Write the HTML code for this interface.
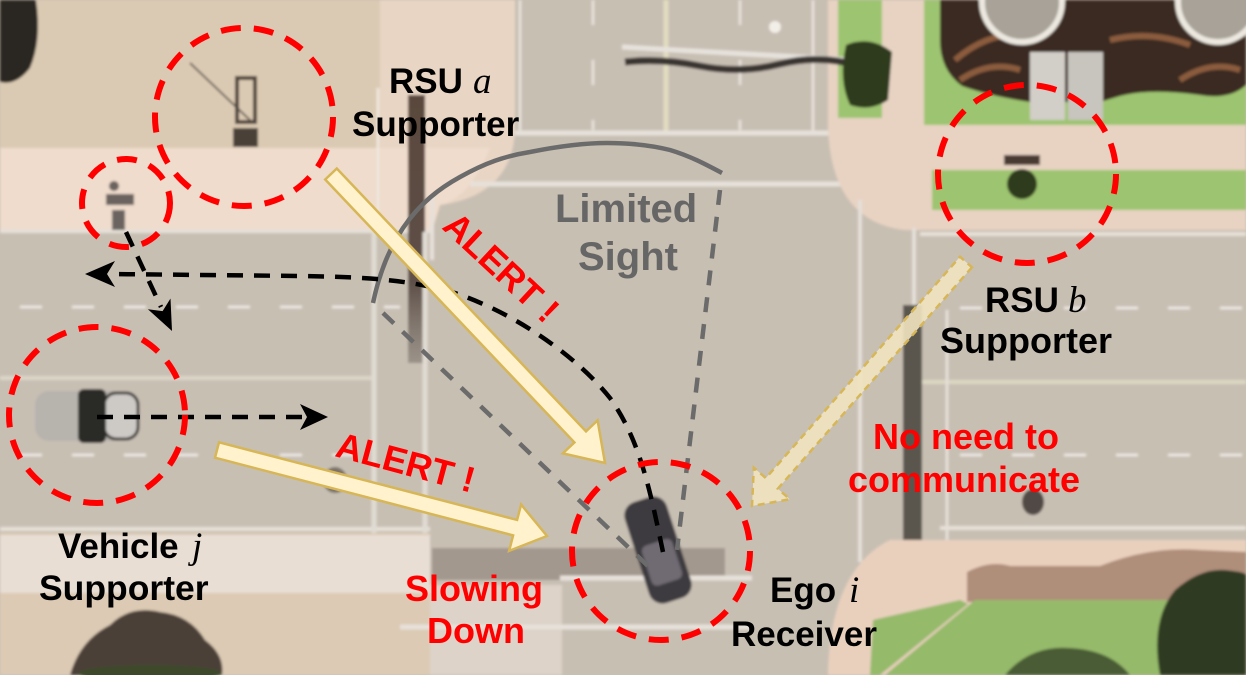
<!DOCTYPE html>
<html><head><meta charset="utf-8">
<style>
html,body{margin:0;padding:0;width:1246px;height:675px;overflow:hidden;background:#c8bfb3}
svg{display:block}
text{font-family:"Liberation Sans",Arial,sans-serif;font-weight:bold}
.m{font-family:"Liberation Serif",serif;font-style:italic;font-weight:normal}
</style></head><body>
<svg width="1246" height="675" viewBox="0 0 1246 675" xmlns="http://www.w3.org/2000/svg">
<defs>
<filter id="soft" x="0" y="0" width="100%" height="100%"><feGaussianBlur stdDeviation="1.2"/></filter>
<linearGradient id="trunk" x1="0" y1="0" x2="0" y2="1">
<stop offset="0" stop-color="#5a473c"/><stop offset="0.7" stop-color="#5e5048"/><stop offset="1" stop-color="#7d746c" stop-opacity="0.6"/>
</linearGradient>
</defs>

<g filter="url(#soft)">
<rect width="1246" height="675" fill="#c8bfb3"/>

<!-- top-left plaza -->
<path d="M0,0 H515 V130 Q512,195 440,205 L432,231 H0 Z" fill="#dbcab3"/>
<path d="M380,0 H515 V130 Q512,195 440,205 L432,231 H380 Z" fill="#e8d5c4"/>
<path d="M0,148 H490 Q470,198 440,205 L432,231 H0 Z" fill="#efdccc"/>
<path d="M0,0 H36 Q42,40 30,68 Q16,86 0,82 Z" fill="#2b2521"/>
<line x1="378" y1="88" x2="378" y2="230" stroke="#eee6dc" stroke-width="3"/>
<line x1="0" y1="231" x2="432" y2="231" stroke="#e6e0d8" stroke-width="4"/>
<line x1="190" y1="63" x2="253" y2="123" stroke="#6b625a" stroke-width="2"/>
<rect x="237" y="78" width="18" height="44" fill="none" stroke="#4d433b" stroke-width="4"/>
<rect x="233" y="128" width="25" height="19" fill="#4a3f38"/>
<rect x="408" y="95" width="17" height="268" fill="url(#trunk)"/>

<!-- top vertical road markings -->
<line x1="520" y1="0" x2="520" y2="133" stroke="#e4dfd8" stroke-width="3"/>
<line x1="593" y1="0" x2="593" y2="130" stroke="#e4dfd8" stroke-width="3" stroke-dasharray="25 35"/>
<line x1="666" y1="0" x2="666" y2="133" stroke="#e2dcc0" stroke-width="5"/>
<line x1="740" y1="0" x2="740" y2="130" stroke="#e4dfd8" stroke-width="3" stroke-dasharray="25 35"/>
<line x1="813" y1="0" x2="813" y2="133" stroke="#e4dfd8" stroke-width="3"/>
<line x1="515" y1="133" x2="830" y2="133" stroke="#e6e1da" stroke-width="5"/>
<line x1="470" y1="184" x2="845" y2="184" stroke="#e6e1da" stroke-width="5"/>
<line x1="432" y1="195" x2="432" y2="260" stroke="#e6e1da" stroke-width="4"/>

<!-- top-right block -->
<path d="M828,0 H1246 V230 H905 Q832,222 828,128 Z" fill="#e8d3c2"/>
<rect x="838" y="0" width="44" height="118" fill="#9dc46f"/>
<rect x="924" y="0" width="322" height="125" fill="#9dc46f"/>
<path d="M940,0 H1246 V85 Q1230,100 1200,95 Q1150,88 1120,96 L1100,102 L1030,102 Q990,96 962,86 Q940,70 940,40 Z" fill="#3a2b22"/>
<g stroke="#8b5b3d" stroke-width="6" fill="none">
<path d="M955,60 Q990,30 1030,35"/><path d="M1110,40 Q1150,30 1190,45"/><path d="M1180,80 Q1210,60 1240,70"/><path d="M960,80 Q990,60 1020,70"/>
</g>
<circle cx="1022" cy="2" r="40" fill="#a8a298" stroke="#ece8e0" stroke-width="6"/>
<circle cx="1218" cy="2" r="40" fill="#a8a298" stroke="#ece8e0" stroke-width="6"/>
<rect x="1030" y="52" width="35" height="68" fill="#d2cec8"/>
<rect x="1068" y="52" width="35" height="68" fill="#c8c4be"/>
<rect x="932" y="170" width="314" height="40" fill="#9dc46f"/>
<rect x="1004" y="155" width="36" height="10" fill="#4a3a30"/>
<ellipse cx="1022" cy="184" rx="15" ry="15" fill="#2d3a1e"/>
<line x1="622" y1="47" x2="890" y2="62" stroke="#e6e2dc" stroke-width="5"/>
<path d="M625,62 Q660,58 700,66 T780,64 T860,66 L890,68" stroke="#3b3430" stroke-width="7" fill="none"/>
<path d="M846,45 Q870,35 892,52 L888,100 Q870,112 850,105 Q838,80 846,45 Z" fill="#2d3a1e"/>
<circle cx="775" cy="27" r="6" fill="#f2eee8"/>

<!-- left road markings -->
<line x1="20" y1="307" x2="400" y2="307" stroke="#e8e4de" stroke-width="3" stroke-dasharray="22 30"/>
<line x1="0" y1="378" x2="372" y2="378" stroke="#dcd6c8" stroke-width="4"/>
<line x1="20" y1="455" x2="360" y2="455" stroke="#e8e4de" stroke-width="3" stroke-dasharray="22 30"/>
<line x1="0" y1="529" x2="430" y2="529" stroke="#e6e0d8" stroke-width="4"/>
<line x1="374" y1="232" x2="374" y2="540" stroke="#e0dbd3" stroke-width="5"/>
<line x1="425" y1="232" x2="425" y2="545" stroke="#e0dbd3" stroke-width="5"/>
<ellipse cx="335" cy="480" rx="12" ry="13" fill="#5a514a" opacity="0.7"/>

<!-- right road markings -->
<line x1="920" y1="234" x2="1246" y2="234" stroke="#e6e0d8" stroke-width="4"/>
<line x1="960" y1="308" x2="1246" y2="308" stroke="#e8e4de" stroke-width="3" stroke-dasharray="22 30"/>
<line x1="920" y1="382" x2="1246" y2="382" stroke="#dcd7c2" stroke-width="4"/>
<line x1="960" y1="455" x2="1246" y2="455" stroke="#e8e4de" stroke-width="3" stroke-dasharray="22 30"/>
<line x1="940" y1="528" x2="1246" y2="528" stroke="#e6e0d8" stroke-width="4"/>
<line x1="860" y1="200" x2="860" y2="562" stroke="#e4dfd8" stroke-width="4"/>
<line x1="914" y1="228" x2="914" y2="545" stroke="#e4dfd8" stroke-width="4"/>
<line x1="947" y1="310" x2="947" y2="545" stroke="#e4dfd8" stroke-width="3"/>
<rect x="903" y="305" width="19" height="298" fill="#5a544e"/>
<ellipse cx="1033" cy="502" rx="11" ry="13" fill="#514a44"/>

<!-- bottom-left -->
<rect x="0" y="533" width="430" height="142" fill="#dccab4"/>
<rect x="0" y="535" width="430" height="58" fill="#e8ded4"/>
<path d="M70,675 Q80,640 110,625 Q130,605 160,612 Q190,615 205,640 Q225,655 222,675 Z" fill="#4b4037"/>
<ellipse cx="150" cy="673" rx="72" ry="8" fill="#3c4a2a"/>
<rect x="430" y="585" width="132" height="90" fill="#ddd3c8"/>
<rect x="432" y="548" width="293" height="32" fill="#8a7e74" opacity="0.6"/>
<line x1="400" y1="627" x2="752" y2="627" stroke="#e6e1da" stroke-width="5"/>
<line x1="560" y1="578" x2="752" y2="578" stroke="#e6e1da" stroke-width="5"/>

<!-- bottom-right -->
<path d="M890,540 H1246 V675 H828 Q830,570 890,540 Z" fill="#e9d0bd"/>
<path d="M967,572 Q990,560 1010,566 L1100,566 Q1150,546 1200,550 L1246,552 V602 H967 Z" fill="#a5826f" opacity="0.85"/>
<polygon points="975,600 1246,600 1246,675 885,675" fill="#95ba6b"/>
<polygon points="873,620 960,600 968,604 880,675 870,675" fill="#95ba6b"/>
<path d="M1160,675 Q1150,620 1175,590 Q1200,568 1225,570 Q1246,572 1246,575 V675 Z" fill="#2e3a20"/>
<path d="M1005,675 Q1030,645 1070,648 Q1110,650 1130,675 Z" fill="#3c4a2c" opacity="0.85"/>

<!-- vehicle j -->
<rect x="35" y="391" width="104" height="50" rx="14" fill="#b7b3ad"/>
<rect x="104" y="393" width="34" height="46" rx="12" fill="#cdcac6" stroke="#3a3836" stroke-width="3"/>
<rect x="78" y="389" width="28" height="54" rx="6" fill="#2c2a28"/>
<g fill="#4a4545" opacity="0.8">
<circle cx="114" cy="186" r="5"/><rect x="106" y="194" width="28" height="11"/><rect x="112" y="210" width="13" height="20"/>
</g>
<g transform="translate(658,550) rotate(-18)">
<rect x="-22" y="-53" width="44" height="106" rx="14" fill="#3e3b41"/>
<rect x="-16" y="-8" width="32" height="42" rx="6" fill="#6f6b72"/>
</g>
</g>

<!-- limited sight -->
<g stroke="#6b6b6b" stroke-width="4.5" fill="none">
<path d="M373,303 C380,270 390,248 403,228 C420,203 440,188 460,177 C485,163 505,156 530,152 C560,146 585,143 607,143 C630,143 650,145 670,150 C690,156 705,164 722,173"/>
<line x1="720" y1="190" x2="677" y2="550" stroke-dasharray="15 12"/>
<line x1="383" y1="313" x2="650" y2="568" stroke-dasharray="15 12"/>
</g>

<!-- black dashed trajectories -->
<g stroke="#000" stroke-width="4.5" fill="none" stroke-dasharray="16 11">
<path d="M663,552 C650,490 640,440 610,398 C580,360 520,315 455,293 C410,280 370,277 300,276 L108,274"/>
<line x1="126" y1="232" x2="161" y2="307"/>
<line x1="97" y1="417" x2="305" y2="417"/>
</g>
<g fill="#000">
<polygon points="85,274 115,261 107,274 115,287"/>
<polygon points="172,331 147.9,309.2 162.6,311.1 170.5,298.5"/>
<polygon points="328,417 300,404 307,417 300,430"/>
</g>

<!-- yellow arrows -->
<polygon points="325.2,179.5 574.4,442.4 562.8,453.4 605,463 597.6,420.4 586.0,431.4 336.8,168.5" fill="#fff2cc" stroke="#d6b656" stroke-width="2.5"/>
<polygon points="215.0,457.7 513.1,535.4 509.1,550.9 547,536 521.1,504.5 517.1,519.9 219.0,442.3" fill="#fff2cc" stroke="#d6b656" stroke-width="2.5"/>
<polygon points="972.0,267.3 777.8,488.7 789.8,499.2 752,506 753.8,467.6 765.8,478.1 960.0,256.7" fill="#efe3bf" fill-opacity="0.9" stroke="#d6b656" stroke-width="2.5" stroke-dasharray="7 5"/>

<!-- red dashed circles -->
<g fill="none" stroke="#ff0000" stroke-width="6" stroke-dasharray="20 13">
<circle cx="244" cy="117" r="89"/>
<circle cx="126" cy="203" r="44"/>
<circle cx="97" cy="415" r="88"/>
<circle cx="1027" cy="174" r="89"/>
<circle cx="661" cy="551" r="89"/>
</g>

<!-- labels -->
<text x="389" y="93" font-size="35" fill="#000">RSU</text>
<text class="m" x="473" y="93" font-size="37" fill="#000">a</text>
<text x="352" y="136" font-size="35" fill="#000">Supporter</text>

<text x="555" y="222" font-size="40" fill="#666">Limited</text>
<text x="578" y="270" font-size="40" fill="#666">Sight</text>

<text transform="translate(441,228) rotate(43)" font-size="36" fill="#ff0000">ALERT !</text>
<text transform="translate(334,456) rotate(15)" font-size="36" fill="#ff0000">ALERT !</text>

<text x="985" y="312" font-size="35" fill="#000">RSU</text>
<text class="m" x="1068" y="312" font-size="37" fill="#000">b</text>
<text x="940" y="353" font-size="36" fill="#000">Supporter</text>

<text x="873" y="449" font-size="36" fill="#ff0000">No need to</text>
<text x="848" y="492" font-size="36" fill="#ff0000">communicate</text>

<text x="58" y="558" font-size="35" fill="#000">Vehicle</text>
<text class="m" x="192" y="558" font-size="37" fill="#000">j</text>
<text x="39" y="600" font-size="35.5" fill="#000">Supporter</text>

<text x="405" y="601" font-size="36" fill="#ff0000">Slowing</text>
<text x="427" y="643" font-size="36" fill="#ff0000">Down</text>

<text x="770" y="602" font-size="35" fill="#000">Ego</text>
<text class="m" x="849" y="602" font-size="37" fill="#000">i</text>
<text x="731" y="646" font-size="35" fill="#000">Receiver</text>
</svg>
</body></html>
